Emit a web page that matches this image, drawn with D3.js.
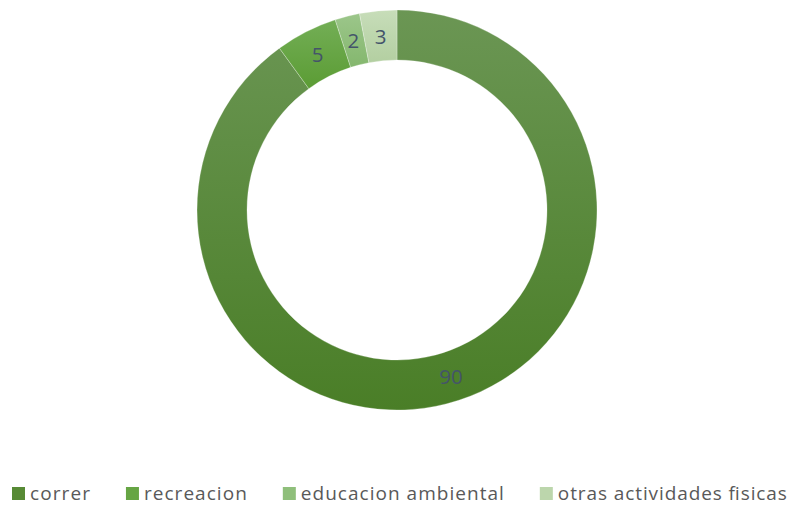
<!DOCTYPE html>
<html>
<head>
<meta charset="utf-8">
<script src="https://cdn.jsdelivr.net/npm/d3@7"></script>
<style>
  html, body { margin: 0; padding: 0; background: #fff; }
  svg { display: block; }
</style>
</head>
<body>
<svg id="chart" width="794" height="505"></svg>
<script>
// Activity categories and their share (values shown as labels)
const categories = ["correr", "recreacion", "educacion ambiental", "otras actividades fisicas"];
const values = [90, 5, 2, 3];
// Gradient stops per slice: [top colour, bottom colour]
const topColors = ["#6b9654", "#73ae56", "#9cc68a", "#c7ddb9"];
const bottomColors = ["#4a7e27", "#5b9c34", "#84b76e", "#b3cfa1"];
// Solid legend swatch colours
const swatchColors = ["#578a35", "#66a544", "#8fbf7b", "#bcd6ac"];

const width = 794, height = 505;
const cx = 397, cy = 210, outerR = 200, innerR = 150;
const fontFamily = "'Open Sans', 'Noto Sans', sans-serif";

const svg = d3.select("#chart");
const defs = svg.append("defs");

categories.forEach((c, i) => {
  const g = defs.append("linearGradient")
    .attr("id", "grad" + i)
    .attr("x1", 0).attr("y1", 0).attr("x2", 0).attr("y2", 1);
  g.append("stop").attr("offset", "0%").attr("stop-color", topColors[i]);
  g.append("stop").attr("offset", "100%").attr("stop-color", bottomColors[i]);
});

const pie = d3.pie().sort(null).value(d => d.value);
const data = pie(categories.map((c, i) => ({ name: c, value: values[i], i })));

const arc = d3.arc().innerRadius(innerR).outerRadius(outerR);
const labelArc = d3.arc().innerRadius((innerR + outerR) / 2).outerRadius((innerR + outerR) / 2);

const g = svg.append("g").attr("transform", `translate(${cx},${cy})`);

g.selectAll("path.slice")
  .data(data)
  .join("path")
  .attr("class", "slice")
  .attr("d", arc)
  .attr("fill", d => `url(#grad${d.data.i})`)
  .attr("stroke", "rgba(255,255,255,0.45)")
  .attr("stroke-width", 0.6);

g.selectAll("text.val")
  .data(data)
  .join("text")
  .attr("class", "val")
  .attr("transform", d => `translate(${labelArc.centroid(d)})`)
  .attr("text-anchor", "middle")
  .attr("dominant-baseline", "central")
  .attr("font-family", fontFamily)
  .attr("font-size", 20.5)
  .attr("fill", "#44546a")
  .text(d => d.data.value);

// Legend laid out in one row along the bottom; text is spread slightly wider
const legend = svg.append("g").attr("class", "legend");
const swatch = 13, textGap = 5, itemGap = 36, spread = 1.1;
const baseline = 499.5;
let x = 12;
categories.forEach((c, i) => {
  const item = legend.append("g").attr("transform", `translate(${x},0)`);
  item.append("rect")
    .attr("x", 0).attr("y", baseline - 12.5)
    .attr("width", swatch).attr("height", swatch)
    .attr("fill", swatchColors[i]);
  const t = item.append("text")
    .attr("x", swatch + textGap).attr("y", baseline)
    .attr("font-family", fontFamily)
    .attr("font-size", 19)
    .attr("fill", "#595959")
    .text(c);
  const w = t.node().getComputedTextLength() * spread;
  t.attr("textLength", w).attr("lengthAdjust", "spacing");
  x += swatch + textGap + w + itemGap;
});
</script>
</body>
</html>
